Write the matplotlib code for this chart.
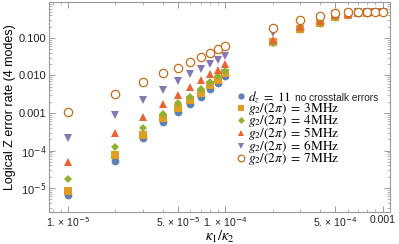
import matplotlib
matplotlib.use("Agg")
import matplotlib.pyplot as plt
from matplotlib.font_manager import FontProperties
from matplotlib.ticker import FixedLocator, NullFormatter

plt.rcParams['font.family'] = ['Liberation Sans', 'DejaVu Sans']
plt.rcParams['mathtext.fontset'] = 'dejavusans'

kappa = [1e-5, 2e-5, 3e-5, 4e-5, 5e-5, 6e-5, 7e-5, 8e-5, 9e-5, 1e-4,
         2e-4, 3e-4, 4e-4, 5e-4, 6e-4, 7e-4, 8e-4, 9e-4, 1e-3]

no_crosstalk = [6.5e-6, 5.3e-5, 2.1e-4, 5.8e-4, 1.07e-3, 1.74e-3, 2.7e-3, 4.3e-3, 6.3e-3, 9.8e-3,
                0.078, 0.17, 0.25, 0.37, 0.42, 0.45, 0.47, 0.48, 0.49]
g3 = [8.3e-6, 7.6e-5, 2.6e-4, 7.4e-4, 1.35e-3, 2.2e-3, 3.4e-3, 5.6e-3, 7.6e-3, 1.17e-2,
      0.080, 0.17, 0.25, 0.37, 0.42, 0.45, 0.47, 0.48, 0.49]
g4 = [1.7e-5, 1.24e-4, 4.0e-4, 9.3e-4, 1.86e-3, 2.7e-3, 4.3e-3, 6.7e-3, 9.8e-3, 1.3e-2,
      0.074, 0.17, 0.25, 0.37, 0.42, 0.45, 0.47, 0.48, 0.49]
g5 = [4.9e-5, 2.9e-4, 7.9e-4, 1.74e-3, 3.0e-3, 4.9e-3, 7.6e-3, 1.1e-2, 1.4e-2, 2.0e-2,
      0.089, 0.196, 0.28, 0.40, 0.44, 0.46, 0.48, 0.49, 0.50]
g6 = [2.1e-4, 8.9e-4, 2.2e-3, 4.1e-3, 7.1e-3, 1.1e-2, 1.5e-2, 2.0e-2, 2.6e-2, 3.3e-2,
      0.135, 0.25, 0.34, 0.43, 0.46, 0.48, 0.49, 0.50, 0.50]
g7 = [1.07e-3, 3.2e-3, 6.7e-3, 1.17e-2, 1.58e-2, 2.3e-2, 3.1e-2, 4.0e-2, 5.1e-2, 6.1e-2,
      0.185, 0.30, 0.39, 0.45, 0.48, 0.49, 0.50, 0.50, 0.50]

labels = [r"$d_z\;=\;11$",
          r"$g_2/(2\pi)\;=\;3\mathrm{MHz}$",
          r"$g_2/(2\pi)\;=\;4\mathrm{MHz}$",
          r"$g_2/(2\pi)\;=\;5\mathrm{MHz}$",
          r"$g_2/(2\pi)\;=\;6\mathrm{MHz}$",
          r"$g_2/(2\pi)\;=\;7\mathrm{MHz}$"]
first_label_suffix = "no crosstalk errors"

xticks = [1e-5, 5e-5, 1e-4, 5e-4, 1e-3]
xticklabels = [r"1. × 10$^{-5}$", r"5. × 10$^{-5}$", r"1. × 10$^{-4}$",
               r"5. × 10$^{-4}$", "0.001"]
yticks = [1e-5, 1e-4, 1e-3, 1e-2, 1e-1]
yticklabels = [r"10$^{-5}$", r"10$^{-4}$", "0.001", "0.010", "0.100"]

fig = plt.figure(figsize=(3.99, 2.44), dpi=100)
ax = fig.add_axes([0.123, 0.131, 0.854, 0.861])

series = [no_crosstalk, g3, g4, g5, g6, g7]
styles = [
    dict(marker='o', color='#5E81B5', ms=5.6),
    dict(marker='s', color='#E19C24', ms=5.6),
    dict(marker='D', color='#8FB032', ms=4.4),
    dict(marker='^', color='#EB6235', ms=6.0),
    dict(marker='v', color='#8778B3', ms=6.0),
    dict(marker='o', color='#C56E1A', ms=6.0),
]
for i, (ys, st, lab) in enumerate(zip(series, styles, labels)):
    if i == 5:
        ax.plot(kappa, ys, linestyle='none', marker=st['marker'], ms=st['ms'],
                markerfacecolor='white', markeredgecolor=st['color'], markeredgewidth=0.9,
                label=lab, zorder=3 + i)
    else:
        ax.plot(kappa, ys, linestyle='none', marker=st['marker'], ms=st['ms'],
                color=st['color'], markeredgewidth=0, label=lab, zorder=3 + i)

ax.set_xscale('log')
ax.set_yscale('log')
ax.set_xlim(7.57e-6, 1.11e-3)
ax.set_ylim(2.3e-6, 0.91)

ax.xaxis.set_major_locator(FixedLocator(xticks))
ax.set_xticklabels(xticklabels)
ax.yaxis.set_major_locator(FixedLocator(yticks))
ax.set_yticklabels(yticklabels)
ax.xaxis.set_minor_formatter(NullFormatter())
ax.yaxis.set_minor_formatter(NullFormatter())

for s in ax.spines.values():
    s.set_color('#999999')
    s.set_linewidth(0.8)
ax.tick_params(which='both', direction='in', top=True, right=True, color='#999999',
               labelcolor='#222222')
ax.tick_params(axis='x', labelsize=7.5, pad=2)
ax.tick_params(axis='y', labelsize=8, pad=2)
ax.tick_params(which='major', length=4, width=0.7)
ax.tick_params(which='minor', length=2, width=0.5)

ax.set_xlabel(r"$\kappa_1/\kappa_2$", fontsize=10.5, labelpad=0, math_fontfamily='stix')
ax.set_ylabel("Logical Z error rate (4 modes)", fontsize=9, labelpad=2)

leg_font = FontProperties(family='Liberation Sans', size=9.5, math_fontfamily='stix')
leg = ax.legend(loc='upper left', bbox_to_anchor=(0.55, 0.583), frameon=False,
                prop=leg_font, handletextpad=0.15, handlelength=0.75, borderpad=0,
                labelspacing=-0.3, borderaxespad=0, markerscale=0.8)
leg.set_zorder(20)
first_text = leg.get_texts()[0]
ax.annotate(first_label_suffix, xy=(1, 0.45), xycoords=first_text,
            xytext=(2.5, 0), textcoords='offset points', va='center', ha='left',
            fontsize=7.3, color='#222222', zorder=30)

fig.savefig("out.png", dpi=100)
